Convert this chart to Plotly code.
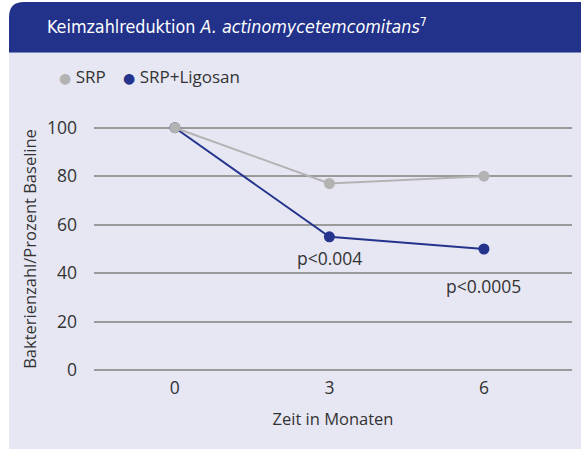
import plotly.graph_objects as go

months = [0, 3, 6]
srp = [100, 77, 80]
srp_ligosan = [100, 55, 50]
y_ticks = [0, 20, 40, 60, 80, 100]
p_labels = ["p<0.004", "p<0.0005"]
p_months = [3, 6]
p_values = [55, 50]
series_names = ["SRP", "SRP+Ligosan"]

BAND = "#22318A"
PANEL = "#E7E7F3"
GREY = "#B3B3B3"
BLUE = "#24348C"
TEXT = "#333333"
FONT = "Open Sans"

W, H = 581, 450
L, R, T, B = 94, 9, 118, 70
PW, PH = W - L - R, H - T - B


def px(x):
    return (x - L) / PW


def py(y):
    return (H - B - y) / PH


fig = go.Figure()

# blue first so the grey dot sits on top at month 0
fig.add_trace(go.Scatter(
    x=months, y=srp_ligosan, mode="lines+markers", name=series_names[1],
    line=dict(color=BLUE, width=2), marker=dict(color=BLUE, size=11),
    cliponaxis=False,
))
fig.add_trace(go.Scatter(
    x=months, y=srp, mode="lines+markers", name=series_names[0],
    line=dict(color=GREY, width=2), marker=dict(color=GREY, size=11),
    cliponaxis=False,
))

# legend as text: dot + name
for name, col, x0 in zip(series_names, [GREY, BLUE], [57, 121]):
    fig.add_annotation(
        xref="paper", yref="paper", x=px(x0), y=py(76),
        xanchor="left", yanchor="middle", showarrow=False,
        text=(f"<span style='color:{col};font-family:DejaVu Sans;"
              f"font-size:14px'>●</span> {name}"),
        font=dict(size=17, color=TEXT, family=FONT),
    )

for m, v, txt, dy in zip(p_months, p_values, p_labels, [-21, -37]):
    fig.add_annotation(x=m, y=v, text=txt, showarrow=False, yshift=dy,
                       font=dict(size=17.5, color=TEXT, family=FONT))

r = 15
band_path = (
    f"M {px(9)},{py(52)} L {px(9)},{py(2 + r)} "
    f"Q {px(9)},{py(2)} {px(9 + r)},{py(2)} "
    f"L {px(581)},{py(2)} L {px(581)},{py(52)} Z"
)
fig.update_layout(
    showlegend=False,
    shapes=[
        dict(type="rect", xref="paper", yref="paper", layer="below",
             x0=px(9), x1=px(581), y0=py(449), y1=py(52),
             fillcolor=PANEL, line_width=0),
        dict(type="path", xref="paper", yref="paper", layer="below",
             path=band_path, fillcolor=BAND, line_width=0),
        dict(type="line", xref="paper", yref="paper", layer="below",
             x0=px(9), x1=px(581), y0=py(52.5), y1=py(52.5),
             line=dict(color="#7C86BF", width=1)),
    ],
    title=dict(
        text="Keimzahlreduktion <i>A. actinomycetemcomitans</i><sup>7</sup>",
        xref="container", yref="container", x=47 / W, y=1 - 27 / H,
        xanchor="left", yanchor="middle",
        font=dict(family="DejaVu Sans Condensed, DejaVu Sans", size=17.8,
                  color="white"),
    ),
    width=W, height=H,
    margin=dict(l=L, r=R, t=T, b=B),
    paper_bgcolor="white", plot_bgcolor=PANEL,
    font=dict(family=FONT, size=17, color=TEXT),
    xaxis=dict(
        range=[-1.57, 7.71], tickvals=months, showgrid=False, zeroline=False,
        title=dict(text="Zeit in Monaten", standoff=15,
                   font=dict(size=16.5, color=TEXT)),
        tickfont=dict(size=17.5, color=TEXT), ticklabelstandoff=-5,
    ),
    yaxis=dict(
        range=[-4, 104], tickvals=y_ticks, showgrid=True,
        gridcolor="#9A9A9A", gridwidth=1.5, zeroline=False,
        title=dict(text="Bakterienzahl/Prozent Baseline", standoff=6,
                   font=dict(size=16.5, color=TEXT)),
        tickfont=dict(size=17.5, color=TEXT), ticklabelstandoff=16,
    ),
)

fig.write_html("out.html", config={"displayModeBar": False},
               post_script="document.body.style.margin = '0';")
